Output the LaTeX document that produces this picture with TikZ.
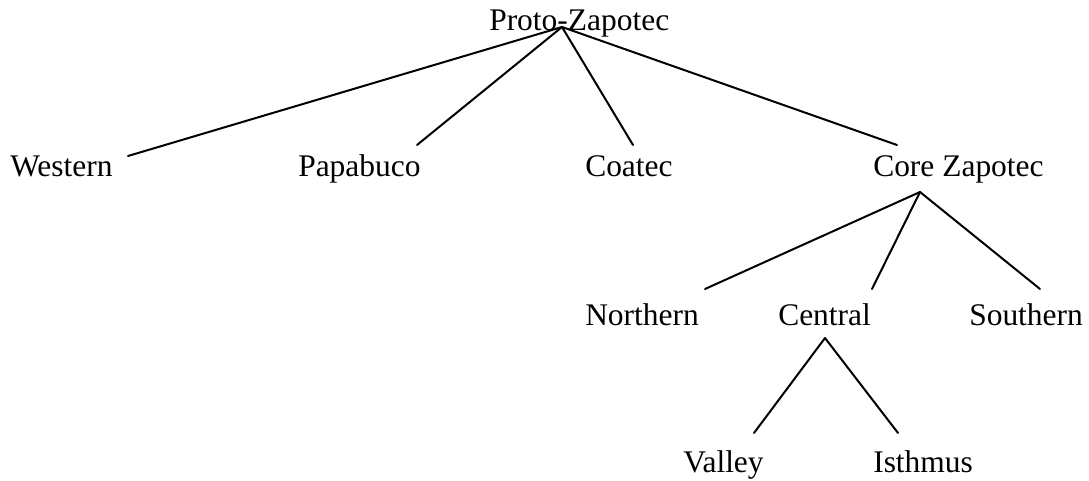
\documentclass[tikz,border=0pt]{standalone}
\usepackage{fontspec}
\setmainfont{Liberation Serif}
\begin{document}
\begin{tikzpicture}[x=0.75pt,y=-0.75pt,
  lang/.style={anchor=base west,inner sep=0pt,font=\fontsize{23.6}{28}\selectfont},
  branch/.style={line width=1.5pt,line cap=round}]
\useasboundingbox (0,0) rectangle (1089,481);
\node[lang] (pz) at (489,31) {Proto-Zapotec};
\node[lang] (we) at (10,177) {Western};
\node[lang] (pa) at (298,177) {Papabuco};
\node[lang] (co) at (585,177) {Coatec};
\node[lang] (cz) at (873,177) {Core Zapotec};
\node[lang] (no) at (585,325) {Northern};
\node[lang] (ce) at (778,325) {Central};
\node[lang] (so) at (969,325) {Southern};
\node[lang] (va) at (683,472) {Valley};
\node[lang] (is) at (873,472) {Isthmus};
\draw[branch] ([shift={(73,-4)}]pz.base west) -- ([shift={(118,-21)}]we.base west);
\draw[branch] ([shift={(73,-4)}]pz.base west) -- ([shift={(119,-32)}]pa.base west);
\draw[branch] ([shift={(73,-4)}]pz.base west) -- ([shift={(48,-32)}]co.base west);
\draw[branch] ([shift={(73,-4)}]pz.base west) -- ([shift={(24,-32)}]cz.base west);
\draw[branch] ([shift={(47,15)}]cz.base west) -- ([shift={(120,-36)}]no.base west);
\draw[branch] ([shift={(47,15)}]cz.base west) -- ([shift={(94,-36)}]ce.base west);
\draw[branch] ([shift={(47,15)}]cz.base west) -- ([shift={(71,-36)}]so.base west);
\draw[branch] ([shift={(47,13)}]ce.base west) -- ([shift={(71,-39)}]va.base west);
\draw[branch] ([shift={(47,13)}]ce.base west) -- ([shift={(25,-39)}]is.base west);
\end{tikzpicture}
\end{document}
